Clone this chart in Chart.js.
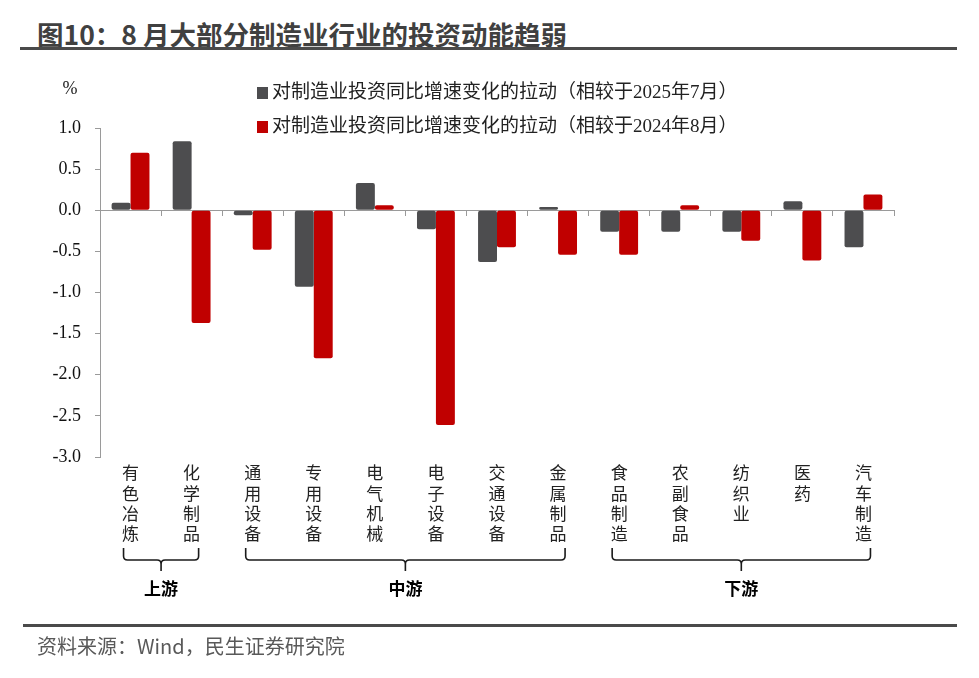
<!DOCTYPE html>
<html>
<head>
<meta charset="utf-8">
<script src="https://cdn.jsdelivr.net/npm/chart.js@4/dist/chart.umd.min.js"></script>
<style>
  html, body { margin: 0; padding: 0; background: #fff; }
  #wrap { position: relative; width: 979px; height: 678px; overflow: hidden; }
  #title { position: absolute; left: 37px; top: 15px; font: bold 26.5px "Noto Sans CJK SC", sans-serif; color: #404040; white-space: nowrap; line-height: 38px; }
  #topline { position: absolute; left: 20px; top: 47px; width: 937px; height: 3px; background: #4a4a4a; }
  #botline { position: absolute; left: 23px; top: 624px; width: 934px; height: 3px; background: #4a4a4a; }
  #source { position: absolute; left: 37px; top: 632px; font: 20px "Noto Sans CJK SC", sans-serif; color: #595959; white-space: nowrap; line-height: 28px; }
  #c { position: absolute; left: 0; top: 0; }
</style>
</head>
<body>
<div id="wrap">
  <div id="title">图10：8 月大部分制造业行业的投资动能趋弱</div>
  <div id="topline"></div>
  <canvas id="c" width="979" height="678"></canvas>
  <div id="botline"></div>
  <div id="source">资料来源：Wind，民生证券研究院</div>
</div>
<script>
// ---- data ----
const categories = ['有色冶炼','化学制品','通用设备','专用设备','电气机械','电子设备','交通设备','金属制品','食品制造','农副食品','纺织业','医药','汽车制造'];
const seriesNames = ['对制造业投资同比增速变化的拉动（相较于2025年7月）','对制造业投资同比增速变化的拉动（相较于2024年8月）'];
const vsJul2025 = [0.09, 0.84, -0.06, -0.93, 0.33, -0.23, -0.63, 0.04, -0.26, -0.26, -0.26, 0.11, -0.45];
const vsAug2024 = [0.70, -1.37, -0.48, -1.80, 0.06, -2.61, -0.45, -0.54, -0.54, 0.06, -0.37, -0.61, 0.19];
const yTicks = [1.0, 0.5, 0.0, -0.5, -1.0, -1.5, -2.0, -2.5, -3.0];
const groupNames = ['上游','中游','下游'];
const groupStart = [0, 2, 8];
const groupEnd = [1, 7, 12];
const yUnit = '%';

const colors = ['#4d4d4f', '#c00000'];
const serifCJK = "'Times New Roman', 'Liberation Serif', 'DejaVu Serif', 'Noto Sans CJK SC', serif";
const sansCJK = "'Noto Sans CJK SC', sans-serif";

Chart.defaults.font.family = sansCJK;

const labelsVertical = categories.map(s => s.split(''));

const legendPlugin = {
  id: 'customLegend',
  afterDraw(chart) {
    const ctx = chart.ctx;
    const ca = chart.chartArea;
    ctx.save();
    ctx.font = '19px ' + serifCJK;
    ctx.textBaseline = 'middle';
    ctx.textAlign = 'left';
    chart.data.datasets.forEach((ds, i) => {
      const y = ca.top - 35 + i * 34;
      const x = ca.left + 157;
      ctx.fillStyle = ds.backgroundColor;
      ctx.fillRect(x, y - 6, 11, 12);
      ctx.fillStyle = '#222';
      ctx.fillText(ds.label, x + 15, y);
    });
    // unit label
    ctx.font = '18px ' + serifCJK;
    ctx.textAlign = 'center';
    ctx.fillText(yUnit, ca.left - 30, ca.top - 39);
    ctx.restore();
  }
};

const bracePlugin = {
  id: 'braces',
  afterDraw(chart) {
    const ctx = chart.ctx;
    const xs = chart.scales.x;
    const b = chart.chartArea.bottom;
    const yTop = b + 91, yMid = b + 103, yTip = b + 114, r = 4;
    ctx.save();
    ctx.strokeStyle = '#1a1a1a';
    ctx.lineWidth = 1.6;
    groupNames.forEach((name, g) => {
      const x1 = xs.getPixelForValue(groupStart[g]) - 7;
      const x2 = xs.getPixelForValue(groupEnd[g]) + 7;
      const xc = (x1 + x2) / 2;
      ctx.beginPath();
      ctx.moveTo(x1, yTop);
      ctx.lineTo(x1, yMid - r);
      ctx.quadraticCurveTo(x1, yMid, x1 + r, yMid);
      ctx.lineTo(xc - r, yMid);
      ctx.quadraticCurveTo(xc, yMid, xc, yMid + r);
      ctx.lineTo(xc, yTip);
      ctx.moveTo(xc, yMid + r);
      ctx.quadraticCurveTo(xc, yMid, xc + r, yMid);
      ctx.lineTo(x2 - r, yMid);
      ctx.quadraticCurveTo(x2, yMid, x2, yMid - r);
      ctx.lineTo(x2, yTop);
      ctx.stroke();
      ctx.fillStyle = '#000';
      ctx.font = 'bold 17px ' + sansCJK;
      ctx.textAlign = 'center';
      ctx.textBaseline = 'middle';
      ctx.fillText(name, xc, b + 132);
    });
    ctx.restore();
  }
};

new Chart(document.getElementById('c'), {
  type: 'bar',
  data: {
    labels: labelsVertical,
    datasets: [
      { label: seriesNames[0], data: vsJul2025, backgroundColor: colors[0], borderRadius: 2, borderSkipped: false },
      { label: seriesNames[1], data: vsAug2024, backgroundColor: colors[1], borderRadius: 2, borderSkipped: false }
    ]
  },
  options: {
    responsive: false,
    animation: false,
    devicePixelRatio: 1,
    layout: { padding: { left: 0, top: 128, right: 85, bottom: 0 } },
    datasets: { bar: { barPercentage: 1.0, categoryPercentage: 0.62 } },
    plugins: { legend: { display: false }, tooltip: { enabled: false } },
    scales: {
      x: {
        type: 'category',
        position: { y: 0 },
        offset: true,
        grid: { display: true, offset: true, drawOnChartArea: false, drawTicks: true, tickLength: 5, color: '#9a9a9a' },
        border: { display: true, color: '#9a9a9a', width: 1 },
        ticks: { display: false }
      },
      x2: {
        type: 'category',
        position: 'bottom',
        labels: labelsVertical,
        offset: true,
        grid: { display: false, drawTicks: false },
        border: { display: false },
        ticks: { maxRotation: 0, minRotation: 0, autoSkip: false, padding: 6, color: '#222', font: { size: 17, family: sansCJK, lineHeight: 1.18 } },
        afterFit(scale) { scale.height = 221; }
      },
      y: {
        min: yTicks[yTicks.length - 1],
        max: yTicks[0],
        afterBuildTicks(scale) { scale.ticks = yTicks.map(v => ({ value: v })); },
        grid: { display: true, drawOnChartArea: false, drawTicks: true, tickLength: 5, color: '#9a9a9a' },
        border: { display: true, color: '#9a9a9a', width: 1 },
        ticks: { padding: 14, color: '#111', font: { size: 18, family: serifCJK }, callback: v => Number(v).toFixed(1) },
        afterFit(scale) { scale.width = 100; }
      }
    }
  },
  plugins: [legendPlugin, bracePlugin]
});
</script>
</body>
</html>
